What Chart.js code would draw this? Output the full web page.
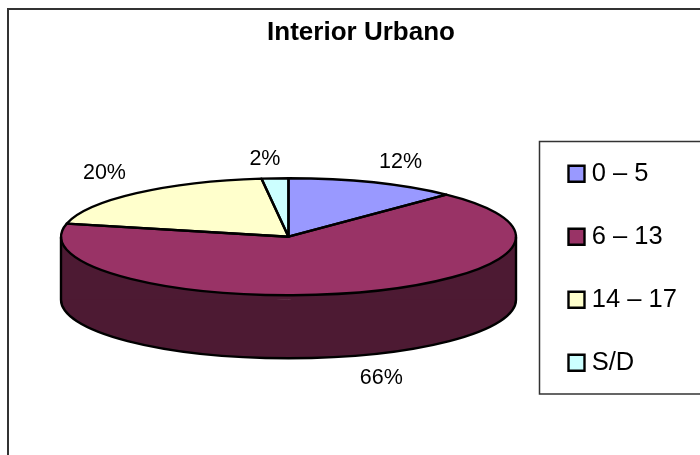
<!DOCTYPE html>
<html>
<head>
<meta charset="utf-8">
<style>html,body{margin:0;padding:0;background:#fff}canvas{display:block}</style>
<script src="https://cdn.jsdelivr.net/npm/chart.js@4"></script>
</head>
<body>
<canvas id="c" width="700" height="455"></canvas>
<script>
const categories = ['0 – 5', '6 – 13', '14 – 17', 'S/D'];
const shares = [12.2, 66.4, 19.5, 1.9];
const sliceColors = ['#9999FF', '#993366', '#FFFFCC', '#CCFFFF'];
const sideColor = '#4D1A33';
const chartTitle = 'Interior Urbano';
const labelNudges = [[27, -20], [28, 85], [-32, -20], [-10, -19]];

const FONT = '"Liberation Sans", Arial, sans-serif';
const CX = 288.5, CY = 236.7, RX = 227.5, RY = 58.5, DEPTH = 63;
const K = RY / RX;

function squash(ctx, arc, dy) {
  ctx.translate(CX, CY + dy);
  ctx.scale(1, K);
  ctx.translate(-arc.x, -arc.y);
}

const pie3d = {
  id: 'pie3d',
  afterLayout(chart) {
    const t = chart.titleBlock;
    t.left = 22; t.right = 700; t.top = 17.5; t.bottom = 50;
    const l = chart.legend;
    l.left = 536.5; l.right = 700; l.top = 123.5; l.bottom = 455;
  },
  beforeDraw(chart) {
    const ctx = chart.ctx;
    ctx.save();
    ctx.fillStyle = '#fff';
    ctx.fillRect(0, 0, 700, 455);
    ctx.strokeStyle = '#333';
    ctx.lineWidth = 2;
    ctx.beginPath();
    ctx.moveTo(8, 455); ctx.lineTo(8, 9); ctx.lineTo(700, 9);
    ctx.stroke();
    ctx.lineWidth = 1.5;
    ctx.beginPath();
    ctx.moveTo(700, 141.5); ctx.lineTo(539.5, 141.5); ctx.lineTo(539.5, 394); ctx.lineTo(700, 394);
    ctx.stroke();
    ctx.restore();
  },
  beforeDatasetsDraw(chart) {
    const ctx = chart.ctx;
    const arcs = chart.getDatasetMeta(0).data;
    arcs.forEach(a => {
      const o = a.options;
      a.options = Object.assign({}, o, { backgroundColor: sideColor });
      ctx.save();
      squash(ctx, a, DEPTH);
      a.draw(ctx);
      ctx.restore();
      a.options = o;
    });
    ctx.fillStyle = sideColor;
    ctx.fillRect(CX - RX, CY, 2 * RX, DEPTH);
    ctx.save();
    squash(ctx, arcs[0], 0);
  },
  afterDatasetsDraw(chart) {
    const ctx = chart.ctx;
    ctx.restore();
    const arcs = chart.getDatasetMeta(0).data;
    ctx.save();
    ctx.strokeStyle = '#000';
    ctx.lineWidth = 2.4;
    ctx.lineJoin = 'round';
    ctx.beginPath();
    ctx.moveTo(CX - RX, CY);
    ctx.lineTo(CX - RX, CY + DEPTH);
    ctx.ellipse(CX, CY + DEPTH, RX, RY, 0, Math.PI, 0, true);
    ctx.lineTo(CX + RX, CY);
    ctx.stroke();
    arcs.forEach(a => {
      ctx.beginPath();
      ctx.moveTo(CX, CY);
      ctx.ellipse(CX, CY, RX, RY, 0, a.startAngle, a.endAngle);
      ctx.closePath();
      ctx.stroke();
    });
    ctx.fillStyle = '#000';
    ctx.font = '21.5px ' + FONT;
    ctx.textAlign = 'center';
    ctx.textBaseline = 'middle';
    arcs.forEach((a, i) => {
      const mid = (a.startAngle + a.endAngle) / 2;
      const x = CX + RX * Math.cos(mid) + labelNudges[i][0];
      const y = CY + RY * Math.sin(mid) + labelNudges[i][1];
      ctx.fillText(Math.round(shares[i]) + '%', x, y);
    });
    ctx.restore();
  }
};

new Chart(document.getElementById('c'), {
  type: 'pie',
  data: {
    labels: categories,
    datasets: [{
      data: shares,
      backgroundColor: sliceColors,
      borderWidth: 0,
      clip: false
    }]
  },
  plugins: [pie3d],
  options: {
    responsive: false,
    animation: false,
    radius: RX,
    plugins: {
      tooltip: { enabled: false },
      title: {
        display: true,
        text: chartTitle,
        color: '#000',
        padding: 0,
        font: { family: FONT, size: 26, weight: 'bold' }
      },
      legend: {
        display: true,
        position: 'right',
        align: 'start',
        labels: {
          usePointStyle: true,
          boxWidth: 5,
          boxHeight: 16,
          padding: 37.5,
          color: '#000',
          font: { family: FONT, size: 25.5 },
          generateLabels(chart) {
            return Chart.overrides.pie.plugins.legend.labels.generateLabels(chart).map(item =>
              Object.assign(item, { pointStyle: 'rect', lineWidth: 2.4, strokeStyle: '#000', borderRadius: 0 }));
          }
        }
      }
    }
  }
});
</script>
</body>
</html>
